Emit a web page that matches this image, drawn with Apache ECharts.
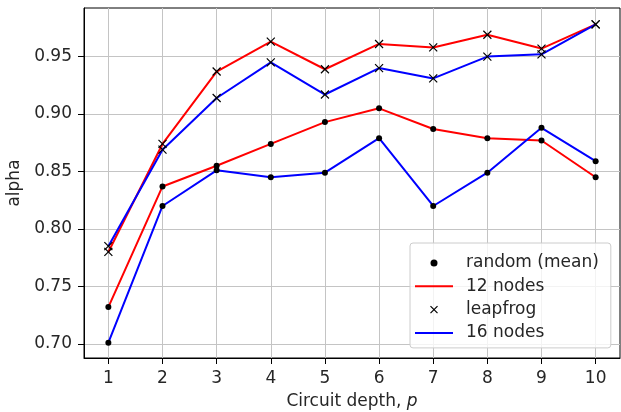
<!DOCTYPE html>
<html>
<head>
<meta charset="utf-8">
<script src="https://cdn.jsdelivr.net/npm/echarts@6/dist/echarts.min.js"></script>
<style>
html, body { margin: 0; padding: 0; background: #fff; }
#chart { width: 621px; height: 412px; }
</style>
</head>
<body>
<div id="chart"></div>
<script>
var depths = [1, 2, 3, 4, 5, 6, 7, 8, 9, 10];
var random12 = [0.732, 0.837, 0.855, 0.874, 0.893, 0.905, 0.887, 0.879, 0.877, 0.845];
var random16 = [0.701, 0.820, 0.851, 0.845, 0.849, 0.879, 0.820, 0.849, 0.888, 0.859];
var leap12 = [0.780, 0.874, 0.937, 0.963, 0.939, 0.961, 0.958, 0.969, 0.957, 0.978];
var leap16 = [0.785, 0.869, 0.914, 0.945, 0.917, 0.940, 0.931, 0.950, 0.952, 0.978];
var xTicks = [1, 2, 3, 4, 5, 6, 7, 8, 9, 10];
var yTicks = [0.70, 0.75, 0.80, 0.85, 0.90, 0.95];

function pairs(xs, ys) { return xs.map(function (x, i) { return [x, ys[i]]; }); }

var FONT = 'DejaVu Sans';
var TXT = '#262626';
var XMARK = 'path://M0,0L10,10M10,0L0,10';
var LINEICON = 'path://M0,0h38v2H0z';

var chart = echarts.init(document.getElementById('chart'), null, { renderer: 'canvas' });
chart.setOption({
  animation: false,
  backgroundColor: '#fff',
  textStyle: { fontFamily: FONT },
  grid: { left: 84, top: 8, right: 1, bottom: 54, containLabel: false, outerBoundsMode: 'none', show: true, borderColor: '#000', borderWidth: 1, backgroundColor: 'transparent' },
  legend: {
    orient: 'vertical',
    left: 410, top: 243,
    padding: [11, 12, 6, 5],
    itemWidth: 38, itemHeight: 7, itemGap: 5.3,
    backgroundColor: 'rgba(255,255,255,0.8)',
    borderColor: '#cccccc', borderWidth: 1, borderRadius: 3,
    textStyle: { fontFamily: FONT, fontSize: 17, color: TXT, lineHeight: 18, padding: [0, 0, 0, 8] },
    selectedMode: false,
    data: [
      { name: 'random (mean)', icon: 'circle', itemStyle: { color: '#000' } },
      { name: '12 nodes', icon: LINEICON, itemStyle: { color: '#ff0000', borderWidth: 0 } },
      { name: 'leapfrog', icon: XMARK, itemStyle: { color: 'transparent', borderColor: '#000', borderWidth: 1.2 } },
      { name: '16 nodes', icon: LINEICON, itemStyle: { color: '#0000ff', borderWidth: 0 } }
    ]
  },
  xAxis: {
    type: 'value', min: 0.55, max: 10.45,
    name: 'Circuit depth, {i|p}', nameLocation: 'middle', nameGap: 35,
    nameTextStyle: { fontFamily: FONT, fontSize: 17, color: TXT, rich: { i: { fontFamily: FONT, fontStyle: 'italic', fontSize: 17, color: TXT } } },
    axisLine: { show: true, lineStyle: { color: '#000', width: 1 } },
    axisTick: { show: true, inside: false, length: 6, customValues: xTicks, lineStyle: { color: '#000', width: 1 } },
    axisLabel: { customValues: xTicks, margin: 12, fontFamily: FONT, fontSize: 17, color: TXT, formatter: function (v) { return String(v); } },
    splitLine: { show: true, lineStyle: { color: '#c4c4c4', width: 1 } }
  },
  yAxis: {
    type: 'value', min: 0.6877, max: 0.9923,
    name: 'alpha', nameLocation: 'middle', nameGap: 52, nameRotate: 90,
    nameTextStyle: { fontFamily: FONT, fontSize: 17, color: TXT },
    axisLine: { show: true, lineStyle: { color: '#000', width: 1 } },
    axisTick: { show: true, inside: false, length: 6, customValues: yTicks, lineStyle: { color: '#000', width: 1 } },
    axisLabel: { customValues: yTicks, margin: 12, fontFamily: FONT, fontSize: 17, color: TXT, formatter: function (v) { return v.toFixed(2); } },
    splitLine: { show: true, lineStyle: { color: '#c4c4c4', width: 1 } }
  },
  series: [
    { name: '12 nodes', type: 'line', data: pairs(depths, random12), symbol: 'none', symbolKeepAspect: true, lineStyle: { color: '#ff0000', width: 2 }, itemStyle: { color: '#ff0000' }, z: 2 },
    { name: '12 nodes', type: 'line', data: pairs(depths, leap12), symbol: 'none', symbolKeepAspect: true, lineStyle: { color: '#ff0000', width: 2 }, itemStyle: { color: '#ff0000' }, z: 2 },
    { name: '16 nodes', type: 'line', data: pairs(depths, random16), symbol: 'none', symbolKeepAspect: true, lineStyle: { color: '#0000ff', width: 2 }, itemStyle: { color: '#0000ff' }, z: 2 },
    { name: '16 nodes', type: 'line', data: pairs(depths, leap16), symbol: 'none', symbolKeepAspect: true, lineStyle: { color: '#0000ff', width: 2 }, itemStyle: { color: '#0000ff' }, z: 2 },
    { name: 'random (mean)', type: 'scatter', data: pairs(depths, random12).concat(pairs(depths, random16)), symbol: 'circle', symbolSize: 6, itemStyle: { color: '#000', opacity: 1 }, z: 4 },
    { name: 'leapfrog', type: 'scatter', data: pairs(depths, leap12).concat(pairs(depths, leap16)), symbol: XMARK, symbolSize: 8, symbolKeepAspect: true, itemStyle: { color: 'transparent', borderColor: '#000', borderWidth: 1.2, opacity: 1 }, z: 3 }
  ]
});
</script>
</body>
</html>
